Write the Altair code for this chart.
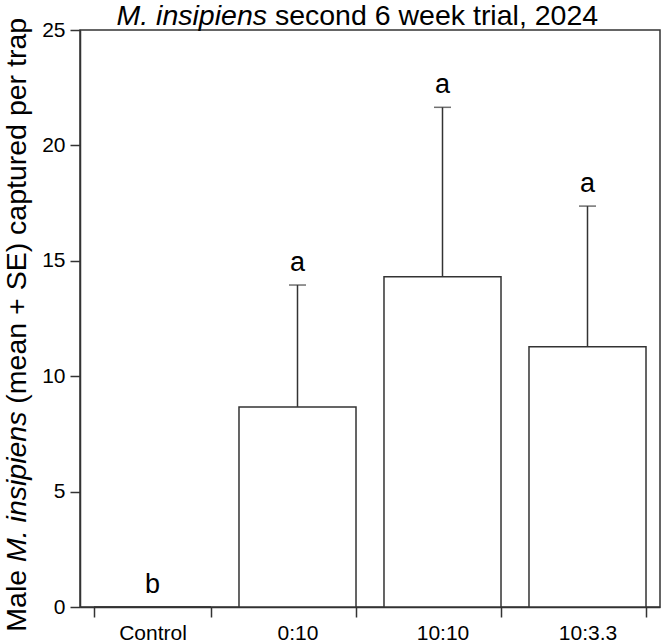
import altair as alt
import pandas as pd

# Treatments, trap catch means and standard errors, and significance letters
categories = ["Control", "0:10", "10:10", "10:3.3"]
means = [0.0, 8.67, 14.31, 11.28]
se = [0.0, 5.28, 7.34, 6.09]
letters = ["b", "a", "a", "a"]

df = pd.DataFrame({"treatment": categories, "mean": means, "se": se, "letter": letters})
df["upper"] = df["mean"] + df["se"]

W, H = 580, 577
LINE = "#333333"
FONT = "Liberation Sans"

x_enc = alt.X(
    "treatment:N",
    sort=categories,
    title=None,
    scale=alt.Scale(paddingInner=0.193, paddingOuter=0.0965),
    axis=alt.Axis(
        labelAngle=0, tickBand="extent", labelFontSize=21, labelFont=FONT,
        labelColor="black", tickSize=10, labelPadding=5,
        domainColor=LINE, tickColor=LINE, domainWidth=1.5, tickWidth=1.5,
    ),
)
y_scale = alt.Scale(domain=[0, 25], nice=False)
y_enc = alt.Y(
    "mean:Q",
    title=None,
    scale=y_scale,
    axis=alt.Axis(
        values=[0, 5, 10, 15, 20, 25], grid=False, labelFontSize=21, labelFont=FONT,
        labelColor="black", tickSize=10, labelPadding=5,
        domainColor=LINE, tickColor=LINE, domainWidth=1.5, tickWidth=1.5,
    ),
)

base = alt.Chart(df)

bars = base.mark_bar(fill="white", stroke=LINE, strokeWidth=1.5).encode(x=x_enc, y=y_enc)

with_se = base.transform_filter("datum.se > 0")
err = with_se.mark_rule(color=LINE, strokeWidth=1.5).encode(
    x=alt.X("treatment:N", sort=categories),
    y=alt.Y("mean:Q", scale=y_scale),
    y2="upper:Q",
)
caps = with_se.mark_tick(color=LINE, thickness=1.5, size=17).encode(
    x=alt.X("treatment:N", sort=categories),
    y=alt.Y("upper:Q", scale=y_scale),
)
sig = base.mark_text(fontSize=27, font=FONT, dy=-14, baseline="alphabetic", color="black").encode(
    x=alt.X("treatment:N", sort=categories),
    y=alt.Y("upper:Q", scale=y_scale),
    text="letter:N",
)

one = alt.Chart(pd.DataFrame({"k": [0]}))

# Chart title: italic species name followed by regular text
TS = 28.5
TQ = 187
title_it = one.mark_text(text="M. insipiens", font=FONT, fontSize=TS, fontStyle="italic",
                         align="right", baseline="alphabetic", color="black").encode(
    x=alt.value(TQ), y=alt.value(-5))
title_rest = one.mark_text(text="second 6 week trial, 2024", font=FONT, fontSize=TS,
                           align="left", baseline="alphabetic", color="black").encode(
    x=alt.value(TQ + 0.278 * TS), y=alt.value(-5))

# Rotated y-axis title in three pieces
YS = 28.5
YX = -54
P = 532
sp = 0.278 * YS
ital_w = 5.279 * YS
yt_male = one.mark_text(text="Male", font=FONT, fontSize=YS, angle=270, align="right",
                        baseline="alphabetic", color="black").encode(
    x=alt.value(YX), y=alt.value(P + sp))
yt_it = one.mark_text(text="M. insipiens", font=FONT, fontSize=YS, angle=270, align="left",
                      fontStyle="italic", baseline="alphabetic", color="black").encode(
    x=alt.value(YX), y=alt.value(P))
yt_rest = one.mark_text(text="(mean + SE) captured per trap", font=FONT, fontSize=YS, angle=270,
                        align="left", baseline="alphabetic", color="black").encode(
    x=alt.value(YX), y=alt.value(P - ital_w - sp))

chart = alt.layer(
    bars, err, caps, sig, title_it, title_rest, yt_male, yt_it, yt_rest
).properties(
    width=W,
    height=H,
    autosize=alt.AutoSizeParams(type="none"),
    padding={"left": 80, "top": 30, "right": 2, "bottom": 35},
    background="white",
).configure_view(stroke=LINE, strokeWidth=1.5)

chart.save("out.html", embed_options={"renderer": "svg", "actions": False})
